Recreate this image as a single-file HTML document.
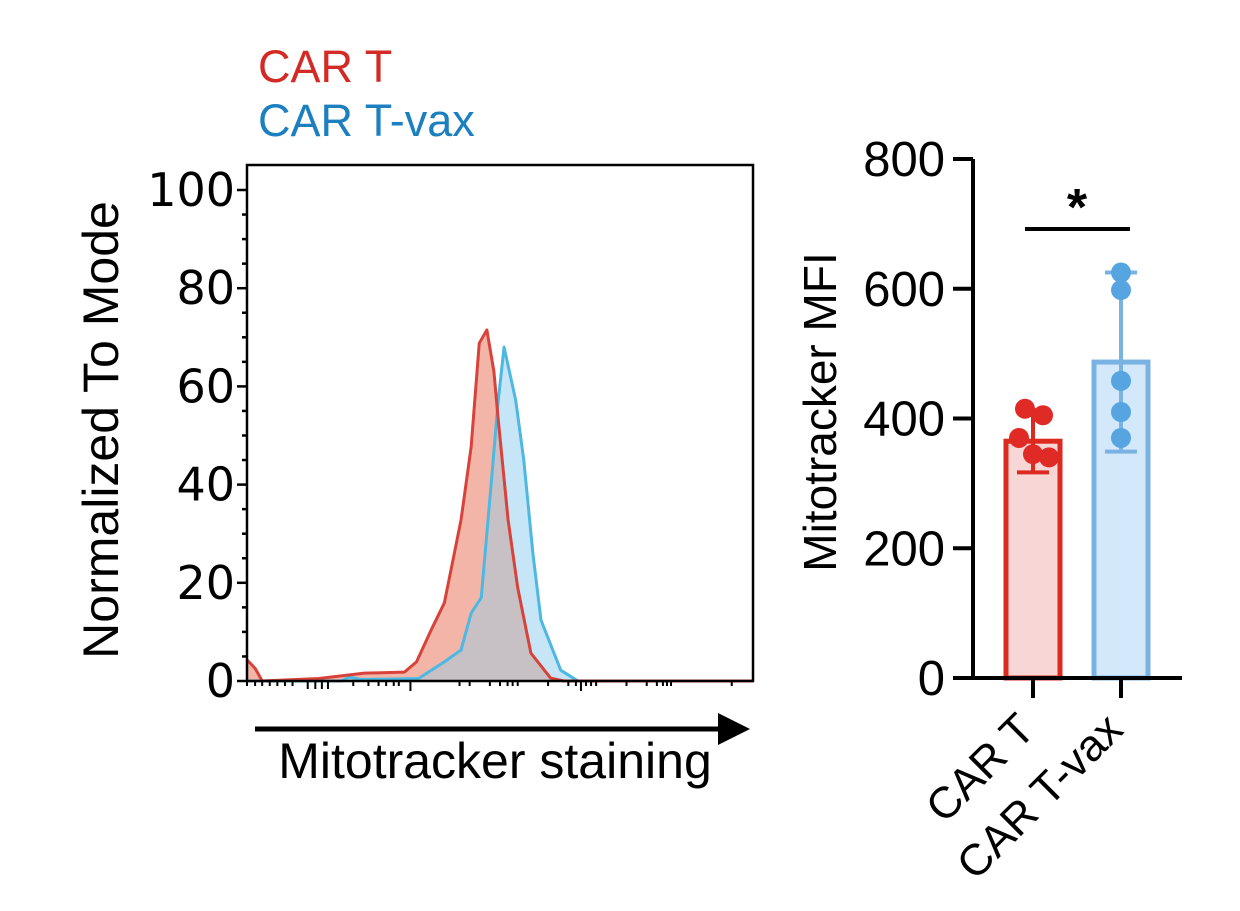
<!DOCTYPE html>
<html><head><meta charset="utf-8"><style>
body{margin:0;background:#fff;}
svg{display:block;font-family:"Liberation Sans",sans-serif;}
.dv{font-family:"DejaVu Sans","Liberation Sans",sans-serif;}
</style></head><body>
<svg id="chart" width="1240" height="911" viewBox="0 0 1240 911">
<text x="258" y="82" font-size="45" fill="#d42a25">CAR T</text>
<text x="258" y="136" font-size="45" fill="#1b7fc0">CAR T-vax</text>
<g id="hist"></g>
<g id="bars"></g>
</svg>
<script>
// Histogram data (x in channel units 0..1000, y = % of mode)
const redX=[0,16,30,142,232,311,335,364,390,423,443,459,474,488,496,516,535,561,600,626,1000];
const redY=[4.3,2.6,0,0.5,1.6,1.8,3.9,10.4,15.9,32.8,47.7,68.8,71.5,63,53.8,32.8,19,5.7,0.6,0,0];
const blueX=[0,187,201,226,339,390,423,443,463,482,496,508,518,531,547,565,581,620,654,969,1000];
const blueY=[0,0,0.8,0.3,0.5,3.9,6.3,13.8,17,39.5,56.6,68,63.3,57.2,45,26,12.4,2.2,0,0,0];
const histTicks=[0,20,40,60,80,100];
// Bar chart data
const groups=["CAR T","CAR T-vax"];
const means=[365,487];
const sds=[48,138];
const pointsRed=[415,405,370,345,340];
const pointsBlue=[625,598,458,410,370];
const barTicks=[0,200,400,600,800];

const NS="http://www.w3.org/2000/svg";
function mk(tag,attrs,parent,txt){const e=document.createElementNS(NS,tag);for(const k in attrs)e.setAttribute(k,attrs[k]);if(txt!==undefined)e.textContent=txt;parent.appendChild(e);return e;}

// ---- histogram ----
const H=document.getElementById('hist');
const hx0=247,hx1=753,hyTop=165,hy0=681,hy100=190;
const hxs=v=>hx0+v/1000*(hx1-hx0);
const hys=v=>hy0-v/100*(hy0-hy100);
function areaPath(xs,ys){let d='M'+hxs(xs[0])+','+hy0;xs.forEach((x,i)=>d+=' L'+hxs(x)+','+hys(ys[i]));return d+' L'+hxs(xs[xs.length-1])+','+hy0+' Z';}
function linePath(xs,ys){return xs.map((x,i)=>(i?'L':'M')+hxs(x)+','+hys(ys[i])).join(' ');}
const defs=mk('defs',{},H);
const cp=mk('clipPath',{id:'blueClip'},defs);
mk('path',{d:areaPath(blueX,blueY)},cp);
let e;
e=mk('path',{d:areaPath(blueX,blueY),fill:'#c6e5f6'},H);


e=mk('path',{d:areaPath(redX,redY),fill:'#f3b5a8'},H);


e=mk('path',{d:areaPath(redX,redY),fill:'#c7c1c6','clip-path':'url(#blueClip)'},H);


e=mk('path',{d:linePath(blueX,blueY),fill:'none',stroke:'#4db8e2','stroke-width':3,'stroke-linejoin':'round'},H);


e=mk('path',{d:linePath(redX,redY),fill:'none',stroke:'#d8423a','stroke-width':3,'stroke-linejoin':'round'},H);


e=mk('rect',{x:hx0,y:hyTop,width:hx1-hx0,height:hy0-hyTop,fill:'none',stroke:'#000','stroke-width':2.5},H);


for(let v=0;v<=100;v+=5){const y=hys(v);mk('line',{x1:v%20==0?hx0-10:hx0-5,x2:hx0,y1:y,y2:y,stroke:'#000','stroke-width':2.5},H);}
histTicks.forEach(v=>{e=mk('text',{x:hx0-12,y:hys(v)+16,'font-size':46,'text-anchor':'end',class:'dv'},H,String(v));

});
// x minor log ticks
[[0,5],[16,5],[30,5],[45,5],[60,5],[75,5],[90,5],[120,8],[135,8],[148,8],[160,8],[210,5],[240,5],[260,5],[275,5],[290,5],[300,5],[323,10],[420,5],[440,5],[480,5],[500,5],[515,5],[525,5],[535,5],[595,5],[635,5],[650,5],[670,5],[680,5],[690,5],[660,10],[750,5],[790,5],[810,5],[822,5],[830,5],[838,5],[958,5]].forEach(t=>mk('line',{x1:hxs(t[0]),x2:hxs(t[0]),y1:hy0,y2:hy0+t[1],stroke:'#000','stroke-width':2},H));
e=mk('text',{x:0,y:0,'font-size':50,'text-anchor':'middle',transform:'translate(118,430) rotate(-90)'},H,'Normalized To Mode');


e=mk('line',{x1:255,x2:722,y1:729,y2:729,stroke:'#000','stroke-width':5},H);


mk('polygon',{points:'718,713 750,729 718,745',fill:'#000'},H);
e=mk('text',{x:495,y:778,'font-size':50,'text-anchor':'middle'},H,'Mitotracker staining');



// ---- bar chart ----
const B=document.getElementById('bars');
const bx=973,by0=678,by800=159;
const bys=v=>by0-v/800*(by0-by800);
const centers=[1033,1121],bw=54;
const fills=['#f8d6d6','#d3e8fa'],strokes=['#dd2a20','#7ab3e1'],dots=['#e02a25','#56a5e0'];
barTicks.forEach(v=>{mk('line',{x1:bx-20,x2:bx,y1:bys(v),y2:bys(v),stroke:'#000','stroke-width':4},B);
e=mk('text',{x:bx-28,y:bys(v)+17,'font-size':49,'text-anchor':'end'},B,String(v));

});
const allPts=[pointsRed,pointsBlue];
const jit=[[-8,10,-14,0,16],[0,0,0,0,0]];
groups.forEach((g,i)=>{
 const c=centers[i];
 e=mk('rect',{x:c-bw/2,y:bys(means[i]),width:bw,height:by0-bys(means[i]),fill:fills[i],stroke:strokes[i],'stroke-width':5},B);
 
 
 const t=bys(means[i]+sds[i]),b=bys(means[i]-sds[i]);
 mk('line',{x1:c,x2:c,y1:t,y2:b,stroke:strokes[i],'stroke-width':4},B);
 mk('line',{x1:c-16,x2:c+16,y1:t,y2:t,stroke:strokes[i],'stroke-width':4},B);
 mk('line',{x1:c-16,x2:c+16,y1:b,y2:b,stroke:strokes[i],'stroke-width':4},B);
 allPts[i].forEach((v,j)=>{e=mk('circle',{cx:c+jit[i][j],cy:bys(v),r:10,fill:dots[i]},B);
 
 });
 mk('line',{x1:c,x2:c,y1:by0,y2:by0+20,stroke:'#000','stroke-width':4},B);
 e=mk('text',{x:0,y:0,'font-size':44,'text-anchor':'end',transform:'translate('+(c+4)+','+(by0+54)+') rotate(-45)'},B,g);
 
 
});
mk('line',{x1:bx,x2:bx,y1:by800,y2:by0,stroke:'#000','stroke-width':4},B);
mk('line',{x1:bx-20,x2:1182,y1:by0,y2:by0,stroke:'#000','stroke-width':4},B);
e=mk('text',{x:0,y:0,'font-size':46,'text-anchor':'middle',transform:'translate(836,412) rotate(-90)'},B,'Mitotracker MFI');


e=mk('line',{x1:1025,x2:1130,y1:229,y2:229,stroke:'#000','stroke-width':4},B);


e=mk('text',{x:1077,y:225,'font-size':52,'font-weight':'bold','text-anchor':'middle'},B,'*');


</script>
</body></html>
